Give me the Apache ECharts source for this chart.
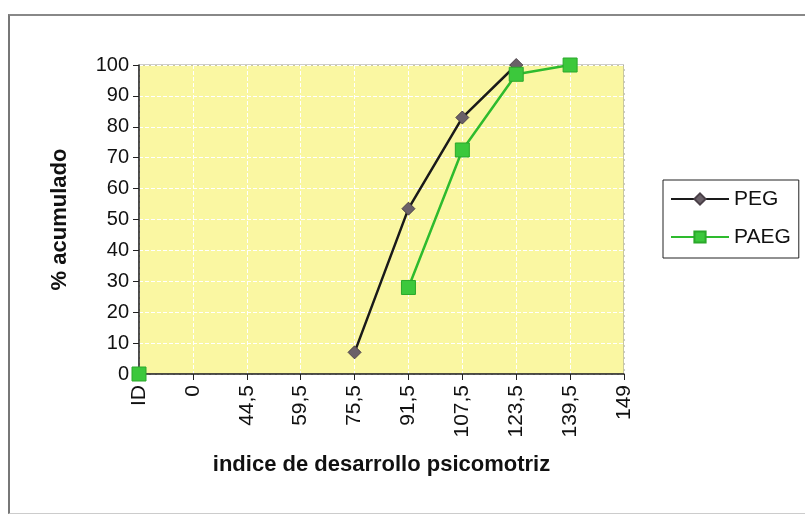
<!DOCTYPE html>
<html>
<head>
<meta charset="utf-8">
<script src="https://cdn.jsdelivr.net/npm/echarts@6/dist/echarts.min.js"></script>
<style>
  html, body { margin: 0; padding: 0; background: #fff; overflow: hidden; }
  #main { width: 805px; height: 515px; position: relative; }
  #frame { position: absolute; left: 8px; top: 14px; width: 800px; height: 497px;
           border-left: 2px solid #777; border-top: 2px solid #888; border-bottom: 1px solid #ccc;
           pointer-events: none; }
</style>
</head>
<body>
<div id="main"></div>
<div id="frame"></div>
<script>
var chartDom = document.getElementById('main');
var myChart = echarts.init(chartDom);

// categories along x axis
var categories = ['ID', '0', '44,5', '59,5', '75,5', '91,5', '107,5', '123,5', '139,5', '149'];
// cumulative %
var pegValues = [null, null, null, null, 7, 53.5, 83, 100, null, null];
var paegValues = [0, null, null, null, null, 28, 72.5, 97, 100, null];
var yTicks = [0, 10, 20, 30, 40, 50, 60, 70, 80, 90, 100];

var font = 'Liberation Sans, Arial, sans-serif';

var option = {
    animation: false,
    textStyle: { fontFamily: font },
    grid: {
        left: 139, right: 181, top: 65, bottom: 141,
        show: true, backgroundColor: '#FAF7A2', borderColor: '#999', borderWidth: 1
    },
    legend: {
        orient: 'vertical',
        left: 663, top: 180,
        itemWidth: 58, itemHeight: 14, itemGap: 16,
        padding: [8, 8, 10, 7],
        borderColor: '#222', borderWidth: 1,
        textStyle: { fontSize: 21, lineHeight: 22, color: '#111', fontFamily: font },
        data: ['PEG', 'PAEG']
    },
    xAxis: {
        type: 'category',
        data: categories,
        boundaryGap: false,
        axisLine: { lineStyle: { color: '#222', width: 1.5 } },
        axisTick: { show: true, lineStyle: { color: '#222' }, length: 6 },
        axisLabel: { rotate: 90, fontSize: 21, color: '#111', margin: 11, fontFamily: font },
        splitLine: { show: true, lineStyle: { color: '#fff', type: 'dashed', width: 1 } },
        name: 'indice de desarrollo psicomotriz',
        nameLocation: 'middle',
        nameGap: 80,
        nameTextStyle: { fontSize: 22, fontWeight: 'bold', color: '#111', fontFamily: font }
    },
    yAxis: {
        type: 'value',
        min: 0, max: 100, interval: 10,
        axisLine: { show: true, lineStyle: { color: '#222', width: 1.5 } },
        axisTick: { show: true, lineStyle: { color: '#222' }, length: 6 },
        axisLabel: {
            fontSize: 20, color: '#111', margin: 10, fontFamily: font,
            formatter: function (v) { return yTicks.indexOf(v) >= 0 ? String(v) : ''; }
        },
        splitLine: { show: true, lineStyle: { color: '#fff', type: 'dashed', width: 1 } },
        name: '% acumulado',
        nameLocation: 'middle',
        nameGap: 68,
        nameRotate: 90,
        nameTextStyle: { fontSize: 22, fontWeight: 'bold', color: '#111', fontFamily: font }
    },
    series: [
        {
            name: 'PEG', type: 'line', data: pegValues,
            connectNulls: false,
            symbol: 'diamond', symbolSize: 13,
            lineStyle: { color: '#1a1a1a', width: 2.5 },
            itemStyle: { color: '#6a6068', borderColor: '#4a4048', borderWidth: 1 }
        },
        {
            name: 'PAEG', type: 'line', data: paegValues,
            connectNulls: false,
            symbol: 'rect', symbolSize: 14,
            lineStyle: { color: '#2EBB2E', width: 2.5 },
            itemStyle: { color: '#3CC83C', borderColor: '#2aa82a', borderWidth: 1 }
        }
    ]
};
option && myChart.setOption(option);
</script>
</body>
</html>
